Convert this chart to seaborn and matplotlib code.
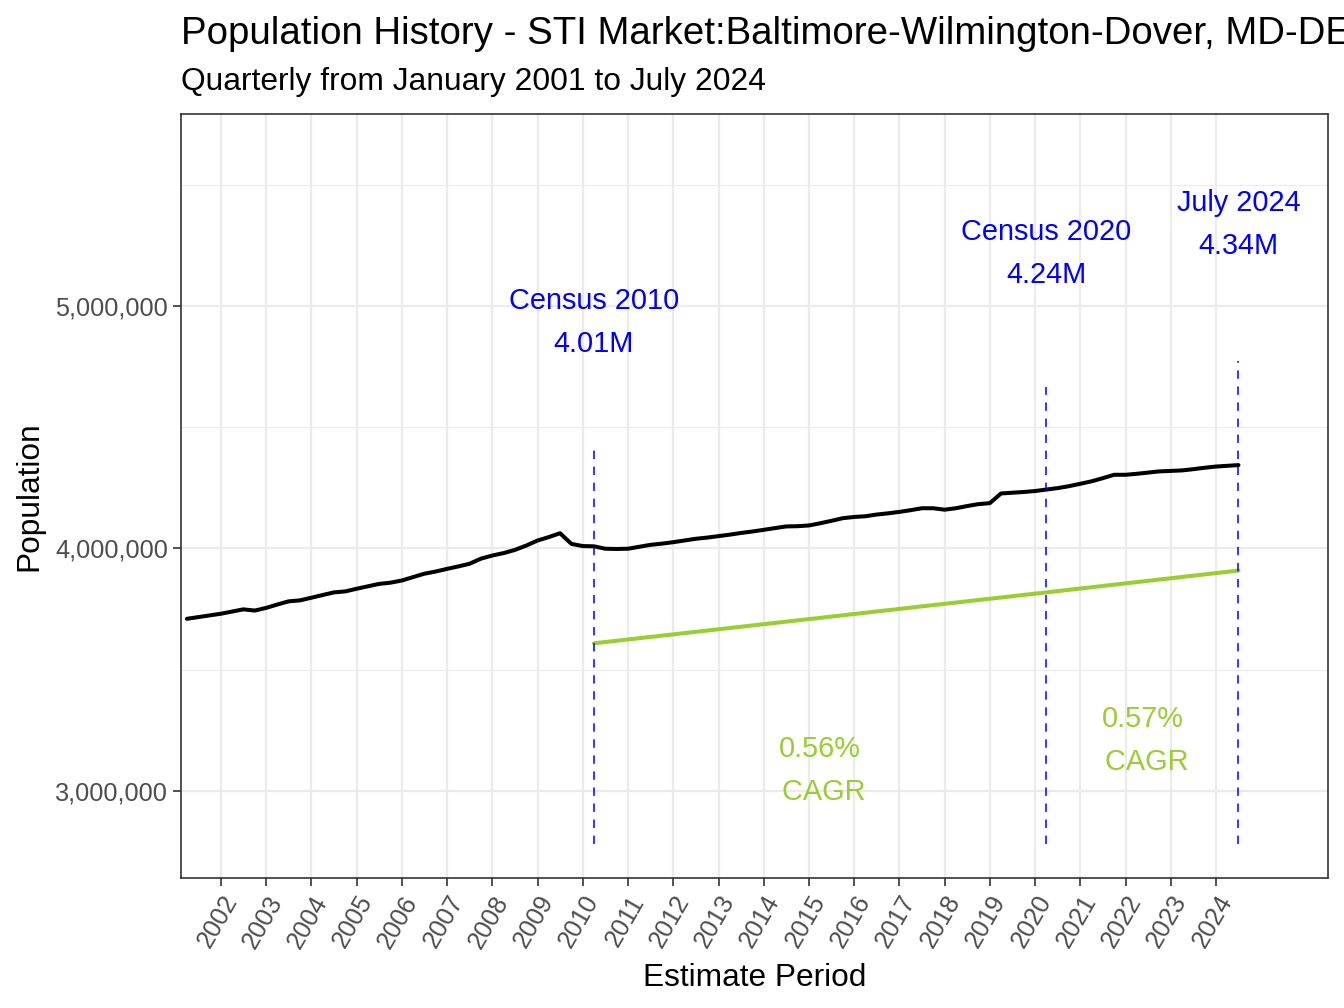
import pandas as pd
import numpy as np
import matplotlib
matplotlib.use("Agg")
import matplotlib.pyplot as plt
from matplotlib.ticker import FixedLocator, FuncFormatter
import seaborn as sns

# Quarterly population estimates (millions), April 2001 .. July 2024
first_quarter = "2001-04-01"
last_quarter = "2024-07-01"
population_m = [
    3.710, 3.717, 3.724,
    3.731, 3.740, 3.749, 3.744,   # 2002
    3.755, 3.769, 3.782, 3.786,   # 2003
    3.797, 3.808, 3.819, 3.823,   # 2004
    3.834, 3.844, 3.854, 3.859,   # 2005
    3.868, 3.882, 3.896, 3.905,   # 2006
    3.916, 3.926, 3.937, 3.958,   # 2007
    3.971, 3.981, 3.994, 4.012,   # 2008
    4.033, 4.047, 4.063, 4.019,   # 2009
    4.010, 4.009, 3.999, 3.998,   # 2010
    3.999, 4.007, 4.015, 4.020,   # 2011
    4.026, 4.033, 4.040, 4.045,   # 2012
    4.051, 4.057, 4.064, 4.070,   # 2013
    4.077, 4.084, 4.091, 4.092,   # 2014
    4.095, 4.104, 4.114, 4.125,   # 2015
    4.130, 4.133, 4.140, 4.145,   # 2016
    4.151, 4.158, 4.166, 4.166,   # 2017
    4.160, 4.166, 4.175, 4.183,   # 2018
    4.187, 4.227, 4.230, 4.233,   # 2019
    4.237, 4.243, 4.249, 4.257,   # 2020
    4.267, 4.277, 4.290, 4.304,   # 2021
    4.304, 4.308, 4.313, 4.318,   # 2022
    4.320, 4.322, 4.327, 4.333,   # 2023
    4.338, 4.341, 4.344,          # 2024
]

# census / latest markers
event_dates = ["2010-04-01", "2020-04-01", "2024-07-01"]
event_names = ["Census 2010", "Census 2020", "July 2024"]
event_pop_m = [4.01, 4.24, 4.34]

# green CAGR reference line (millions) at the event dates
trend_pop_m = [3.609, 3.819, 3.909]
cagr_labels = ["0.56%", "0.57%"]

year_ticks = list(range(2002, 2025))

title = "Population History - STI Market:Baltimore-Wilmington-Dover, MD-DE"
subtitle = "Quarterly from January 2001 to July 2024"

# ---- build frames
dates = pd.date_range(first_quarter, last_quarter, freq="QS")
df = pd.DataFrame({"date": dates, "population": np.array(population_m) * 1e6})
ev = pd.DataFrame({"date": pd.to_datetime(event_dates),
                   "name": event_names,
                   "pop": np.array(event_pop_m) * 1e6,
                   "trend": np.array(trend_pop_m) * 1e6})

sns.set_theme(style="white")
plt.rcParams["font.family"] = ["Liberation Sans", "DejaVu Sans"]
plt.rcParams["text.color"] = "black"
plt.rcParams["axes.labelcolor"] = "black"

W, H = 1344, 1008
fig = plt.figure(figsize=(W / 100, H / 100), dpi=100)
ax = fig.add_axes([181 / W, 1 - 878 / H, 1147 / W, 764 / H])

# population line
sns.lineplot(data=df, x="date", y="population", color="black", linewidth=2.9, ax=ax)
# CAGR reference line
sns.lineplot(data=ev, x="date", y="trend", color="#9ACD32", linewidth=2.9, ax=ax)

# dashed markers
ymin_line = 0.75 * df["population"].min()
for d, p in zip(ev["date"], ev["pop"]):
    ax.vlines(d, ymin_line, p * 1.1, colors="blue", linestyles=(0, (5.5, 5)), linewidth=1.1)

for d, n, p in zip(ev["date"], ev["name"], ev["pop"]):
    ax.text(d, p * 1.23, f"{n}\n{p / 1e6:.2f}M", ha="center", va="center",
            multialignment="center", linespacing=1.68, color="blue", fontsize=20.8)

# CAGR labels between events
cagr_y = [3.085e6, 3.21e6]
for i, lab in enumerate(cagr_labels):
    mid = ev["date"][i] + (ev["date"][i + 1] - ev["date"][i]) / 2
    ax.text(mid, cagr_y[i], f"{lab}\n CAGR", ha="center", va="center",
            multialignment="center", linespacing=1.68, color="#9ACD32", fontsize=20.8)

# axes
ax.set_xlim(pd.Timestamp("2001-02-12"), pd.Timestamp("2026-06-24"))
ax.set_ylim(2.641e6, 5.792e6)
ax.set_xticks([pd.Timestamp(f"{y}-01-01") for y in year_ticks])
ax.set_xticklabels([str(y) for y in year_ticks])
ax.yaxis.set_major_locator(FixedLocator([3e6, 4e6, 5e6]))
ax.yaxis.set_minor_locator(FixedLocator([3.5e6, 4.5e6, 5.5e6]))
ax.yaxis.set_major_formatter(FuncFormatter(lambda v, _: f"{v:,.0f}"))

ax.grid(which="major", color="#EBEBEB", linewidth=1.6)
ax.grid(which="minor", axis="y", color="#EBEBEB", linewidth=0.8)
ax.set_axisbelow(True)

for s in ax.spines.values():
    s.set_color("#333333")
    s.set_linewidth(1.2)

ax.tick_params(axis="both", which="major", length=5.5, width=1.2, color="#333333",
               labelcolor="#4D4D4D", labelsize=18.2, pad=4, left=True, bottom=True)
ax.tick_params(axis="y", which="minor", length=0)
plt.setp(ax.get_xticklabels(), rotation=60, ha="right", va="top", rotation_mode="anchor")

ax.set_xlabel("Estimate Period", fontsize=22.8, color="black")
ax.set_ylabel("Population", fontsize=22.8, color="black")
ax.xaxis.set_label_coords(0.5, -0.111)
ax.yaxis.set_label_coords(-0.119, 0.5)

fig.text(181 / W, 1 - 43.5 / H, title, fontsize=27.6, ha="left", va="baseline")
fig.text(181 / W, 1 - 90 / H, subtitle, fontsize=22.9, ha="left", va="baseline")

fig.savefig("out.png", dpi=100)
